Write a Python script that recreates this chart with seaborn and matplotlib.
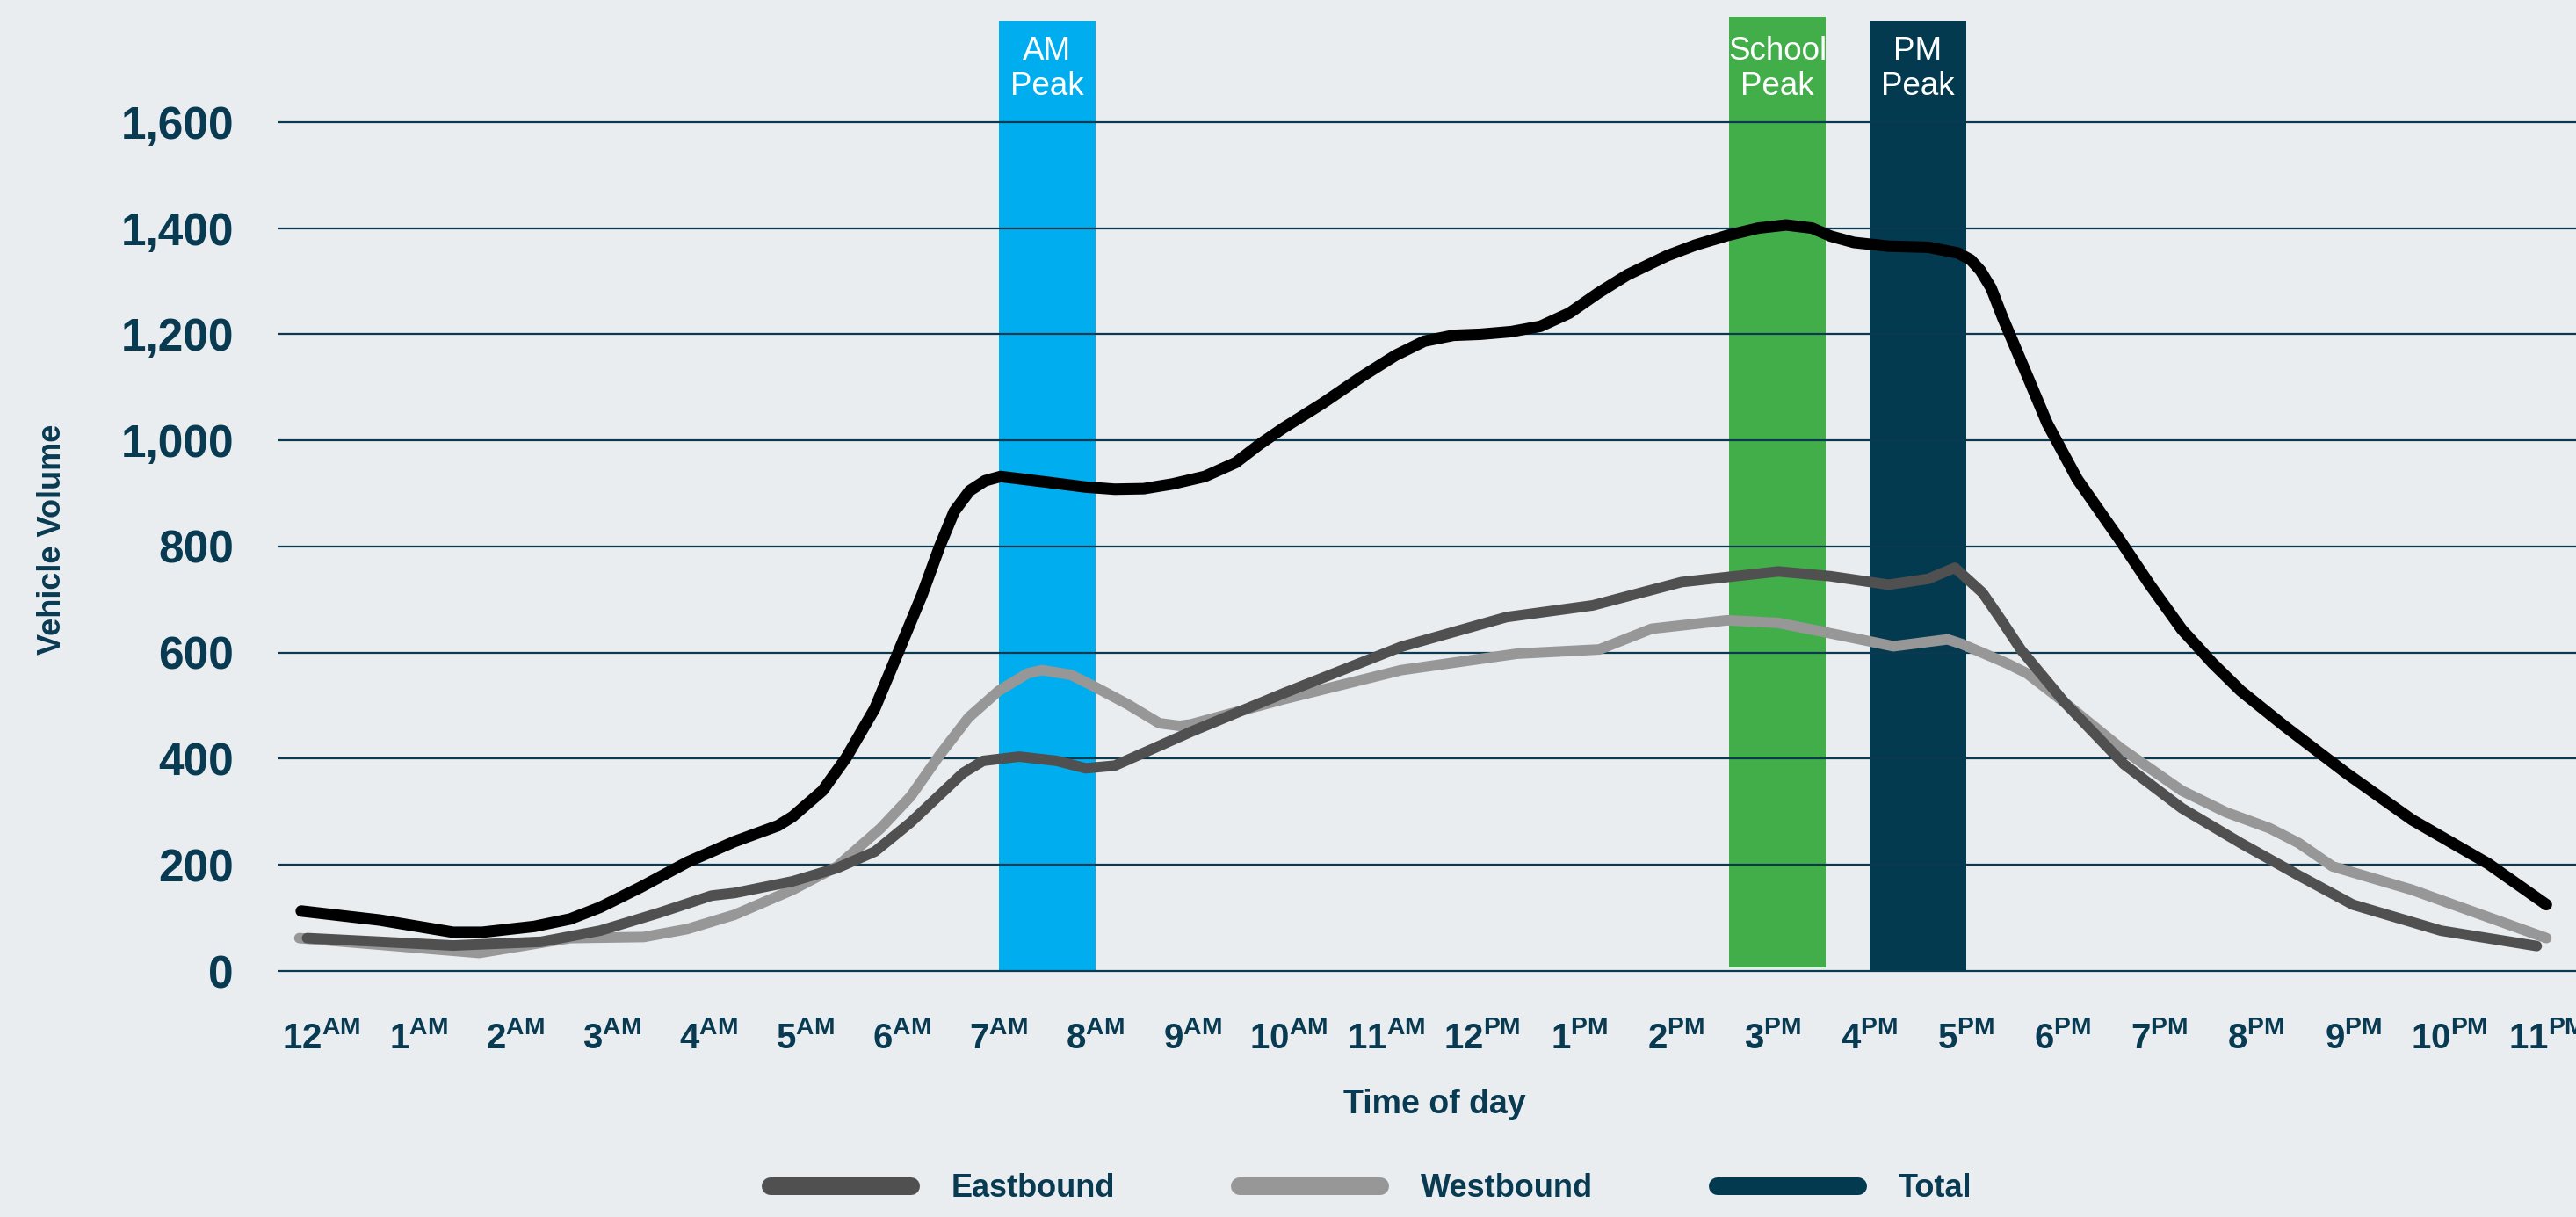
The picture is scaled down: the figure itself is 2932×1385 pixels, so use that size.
import matplotlib
matplotlib.use("Agg")
import matplotlib.pyplot as plt
from matplotlib.lines import Line2D
import seaborn as sns

# ---- data -------------------------------------------------------------
hour_numbers = ["12", "1", "2", "3", "4", "5", "6", "7", "8", "9", "10", "11",
                "12", "1", "2", "3", "4", "5", "6", "7", "8", "9", "10", "11"]
meridiem = ["AM"] * 12 + ["PM"] * 12
y_ticks = [0, 200, 400, 600, 800, 1000, 1200, 1400, 1600]

total_hours = [-0.21, 0.6, 1.36, 1.66, 2.2, 2.57, 2.88, 3.3, 3.78, 4.27, 4.72,
               4.87, 5.18, 5.42, 5.72, 5.96, 6.21, 6.39, 6.54, 6.7, 6.86, 7.02,
               7.51, 7.9, 8.2, 8.5, 8.8, 9.13, 9.45, 9.7, 9.94, 10.35, 10.76,
               11.1, 11.4, 11.7, 11.98, 12.3, 12.6, 12.9, 13.2, 13.5, 13.91,
               14.2, 14.53, 14.85, 15.14, 15.41, 15.6, 15.84, 16.2, 16.61,
               16.92, 17.05, 17.15, 17.26, 17.38, 17.61, 17.84, 18.15, 18.58,
               18.9, 19.23, 19.55, 19.84, 20.29, 20.93, 21.61, 22.4, 23.0]
total_volume = [113, 96, 73, 73, 84, 98, 120, 158, 205, 244, 274,
                291, 340, 401, 495, 600, 710, 800, 866, 905, 924, 932,
                921, 912, 908, 909, 918, 932, 958, 993, 1023, 1070, 1121,
                1160, 1187, 1198, 1200, 1205, 1215, 1240, 1278, 1312, 1348,
                1368, 1386, 1400, 1406, 1400, 1385, 1373, 1366, 1364,
                1353, 1340, 1320, 1287, 1231, 1132, 1032, 927, 815,
                728, 644, 580, 528, 462, 373, 285, 202, 125]

east_hours = [-0.15, 1.36, 2.27, 2.88, 3.48, 4.03, 4.27, 4.87, 5.33, 5.72,
              6.09, 6.63, 6.84, 7.21, 7.6, 7.9, 8.2, 8.51, 8.99, 9.94, 11.16,
              12.25, 13.14, 14.06, 15.06, 15.6, 16.2, 16.61, 16.885, 17.17,
              17.37, 17.57, 18.02, 18.63, 19.23, 19.84, 20.44, 21.0, 21.91,
              22.9]
east_volume = [62, 48, 55, 76, 109, 142, 147, 169, 194, 225,
               280, 373, 396, 404, 396, 382, 387, 412, 451, 523, 611,
               667, 689, 733, 753, 744, 728, 739, 760, 713,
               660, 605, 506, 390, 307, 241, 180, 125, 76,
               47]

west_hours = [-0.23, 1.63, 2.57, 3.33, 3.78, 4.27, 4.87, 5.33, 5.78, 6.09,
              6.39, 6.69, 7.0, 7.3, 7.45, 7.75, 7.99, 8.33, 8.66, 8.87, 8.99,
              9.94, 11.16, 12.36, 13.21, 13.75, 14.53, 15.06, 15.53, 16.25,
              16.81, 16.96, 17.42, 17.63, 18.02, 18.6, 19.23, 19.69, 20.14,
              20.44, 20.79, 21.61, 23.0]
west_volume = [62, 34, 62, 64, 79, 106, 153, 197, 269, 329,
               407, 478, 528, 561, 567, 558, 536, 503, 467, 462, 465,
               512, 567, 598, 606, 645, 661, 656, 639, 612,
               625, 616, 580, 561, 506, 420, 340, 299, 269,
               241, 197, 153, 62]

peak_labels = ["AM\nPeak", "School\nPeak", "PM\nPeak"]
peak_start = [7.0, 14.55, 16.0]
peak_end = [8.0, 15.55, 17.0]
peak_base = [0, 7, 0]
peak_top = [1791, 1798, 1791]

series_names = ["Eastbound", "Westbound", "Total"]

# ---- style ------------------------------------------------------------
BG = "#e9edf0"
INK = "#083a52"
GRID = "#0b3a50"
EAST_C = "#505050"
WEST_C = "#979797"
TOTAL_C = "#000000"
TOTAL_KEY_C = "#033a50"
PEAK_COLORS = ["#00aeef", "#41ae4a", "#033a50"]

sns.set_theme(style="white", rc={"figure.facecolor": BG, "axes.facecolor": BG})
plt.rcParams["font.family"] = ["Liberation Sans", "DejaVu Sans"]
plt.rcParams["mathtext.fontset"] = "custom"

W, H = 2932, 1385
fig = plt.figure(figsize=(W / 100, H / 100), dpi=100)
ax = fig.add_axes([316 / W, 265 / H, 1 - 316 / W, 1120 / H])
ax.set_facecolor(BG)

# peak periods
centers = [(s + e) / 2 for s, e in zip(peak_start, peak_end)]
widths = [e - s for s, e in zip(peak_start, peak_end)]
heights = [t - b for t, b in zip(peak_top, peak_base)]
ax.bar(centers, heights, width=widths, bottom=peak_base, color=PEAK_COLORS,
       linewidth=0, zorder=1)
for cx, lab in zip(centers, peak_labels):
    ax.text(cx, 1700, lab, ha="center", va="center", color="white",
            fontsize=26.5, family=["Liberation Sans Narrow", "Liberation Sans"],
            linespacing=1.15, zorder=2)

# traffic curves
line_kw = dict(solid_capstyle="round", solid_joinstyle="round")
sns.lineplot(x=west_hours, y=west_volume, ax=ax, color=WEST_C, linewidth=8.6,
             zorder=3, **line_kw)
sns.lineplot(x=east_hours, y=east_volume, ax=ax, color=EAST_C, linewidth=8.6,
             zorder=4, **line_kw)
sns.lineplot(x=total_hours, y=total_volume, ax=ax, color=TOTAL_C, linewidth=9.4,
             zorder=5, **line_kw)

# axes
ax.set_xlim((316 - 366) / 110.1, (W - 366) / 110.1)
ax.set_ylim(-24.8, 1830)
ax.set_xticks(range(24))
ax.set_xticklabels([f"{n}$^{{\\mathregular{{{m}}}}}$" for n, m in zip(hour_numbers, meridiem)],
                   fontsize=29, fontweight="bold", color=INK)
ax.set_yticks(y_ticks)
ax.set_yticklabels([f"{v:,}" for v in y_ticks], fontsize=37, fontweight="bold", color=INK)
ax.tick_params(axis="x", length=0, pad=30)
ax.tick_params(axis="y", length=0, pad=36)
ax.yaxis.grid(True, color=GRID, linewidth=1.6)
ax.xaxis.grid(False)
ax.set_axisbelow(False)
for sp in ax.spines.values():
    sp.set_visible(False)
ax.set_xlabel("")
ax.set_ylabel("")

fig.text(1633 / W, 1 - 1267 / H, "Time of day", ha="center", va="baseline",
         fontsize=27, fontweight="bold", color=INK)
fig.text(69 / W, 1 - 614 / H, "Vehicle Volume", ha="center", va="baseline",
         rotation=90, rotation_mode="anchor", fontsize=26, fontweight="bold", color=INK)

# legend
handles = [Line2D([], [], color=c, lw=14.4, solid_capstyle="round")
           for c in (EAST_C, WEST_C, TOTAL_KEY_C)]
fig.legend(handles, series_names, loc="center left",
           bbox_to_anchor=(877 / W, 1 - 1353 / H), ncol=3, frameon=False,
           prop={"weight": "bold", "size": 26}, labelcolor=INK,
           handlelength=4.43, handletextpad=1.27, columnspacing=3.93,
           borderpad=0, borderaxespad=0)

fig.savefig("out.png", dpi=100, facecolor=BG)
